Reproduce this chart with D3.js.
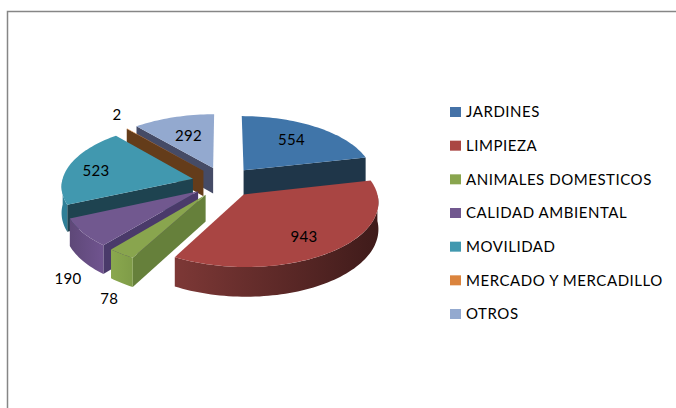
<!DOCTYPE html>
<html>
<head>
<meta charset="utf-8">
<script src="https://cdn.jsdelivr.net/npm/d3@7"></script>
<style>
    html, body { margin: 0; padding: 0; background: #fff; overflow: hidden; }
    text { font-family: Lato, "Open Sans", sans-serif; fill: #000; }
</style>
</head>
<body>
<script>
// values
const categories = ["JARDINES", "LIMPIEZA", "ANIMALES DOMESTICOS", "CALIDAD AMBIENTAL", "MOVILIDAD", "MERCADO Y MERCADILLO", "OTROS"];
const values = [554, 943, 78, 190, 523, 2, 292];

const svgWidth = 676;
const svgHeight = 408;

// colours per slice, same order as categories
const topColors = ["#4075a9", "#a94543", "#89a54e", "#71588f", "#4198af", "#db843d", "#93a9cf"];
const legendColors = ["#4572a7", "#aa4643", "#89a54e", "#71588f", "#4198af", "#db843d", "#93a9cf"];
const wallColors = ["#1f3649", "#5c2a28", "#66803b", "#4a3a6a", "#1e4350", "#643c1a", "#454b66"];
const rimStart = ["#2c4f70", "#7d3836", "#8aa84e", "#5e4878", "#2f7f97", "#8a5a2a", "#5a6a8a"];
const rimEnd = ["#2c4f70", "#3f1b1a", "#7f9c48", "#70548f", "#2f7f97", "#8a5a2a", "#5a6a8a"];

// where the value label sits along the slice's middle direction
const labelFraction = [0.64, 0.69, 1.13, 1.12, 0.78, 1.14, 0.6];
const labelShift = [-2, 4, 32, 37, 2, -10, -1];

// pie geometry
const center = {x: 224, y: 182};
const radius = 131;
const explode = 32;
const tilt = 0.475;
const perspective = 0.0008;
const depth = 26;

const svg = d3
    .select("body")
    .append("svg")
    .attr("width", svgWidth)
    .attr("height", svgHeight);

// chart frame, runs off the picture on the right and bottom
svg.append("path")
    .attr("d", `M7.5,${svgHeight}V11.5H${svgWidth}`)
    .attr("fill", "none")
    .attr("stroke", "#868686")
    .attr("stroke-width", 1.5);

const radial = d3.scaleLinear().domain([0, 1]).range([0, radius]);
const slices = d3.pie().sort(null).value(d => d)(values);
const lineGen = d3.line();

const project = (slice, angle, r, z) => {
    const mid = (slice.startAngle + slice.endAngle) / 2;
    const wx = explode * Math.sin(mid) + radial(r) * Math.sin(angle);
    const wd = -explode * Math.cos(mid) - radial(r) * Math.cos(angle);
    const s = 1 / (1 - perspective * wd);
    return [center.x + wx * s, center.y + (tilt * wd + z) * s];
};

const arcAngles = (from, to) => {
    const n = Math.max(2, Math.ceil((to - from) / 0.03));
    return d3.range(n + 1).map(i => from + (to - from) * i / n);
};

const wallPath = (slice, angle) => lineGen([
    project(slice, angle, 0, 0),
    project(slice, angle, 1, 0),
    project(slice, angle, 1, depth),
    project(slice, angle, 0, depth)
]) + "Z";

const defs = svg.append("defs");
const pie = svg.append("g").attr("id", "pie");

// back slices first so the front ones paint over them
const order = d3.range(slices.length).sort((a, b) => {
    const mid = i => (slices[i].startAngle + slices[i].endAngle) / 2;
    return d3.descending(Math.cos(mid(a)), Math.cos(mid(b)));
});

order.forEach(i => {
    const slice = slices[i];
    const g = pie.append("g").attr("class", "slice");

    if (Math.sin(slice.startAngle) < -1e-6) {
        g.append("path").attr("d", wallPath(slice, slice.startAngle)).attr("fill", wallColors[i]);
    }
    if (Math.sin(slice.endAngle) > 1e-6) {
        g.append("path").attr("d", wallPath(slice, slice.endAngle)).attr("fill", wallColors[i]);
    }

    // outer rim, only the part turned to the viewer
    const from = Math.max(slice.startAngle, Math.PI / 2);
    const to = Math.min(slice.endAngle, Math.PI * 1.5);
    if (to > from) {
        const angles = arcAngles(from, to);
        const rim = angles.map(a => project(slice, a, 1, 0))
            .concat(angles.slice().reverse().map(a => project(slice, a, 1, depth)));
        const grad = defs.append("linearGradient").attr("id", `rim${i}`);
        grad.append("stop").attr("offset", "0%").attr("stop-color", rimStart[i]);
        grad.append("stop").attr("offset", "100%").attr("stop-color", rimEnd[i]);
        g.append("path").attr("d", lineGen(rim) + "Z").attr("fill", `url(#rim${i})`);
    }

    const top = [project(slice, 0, 0, 0)]
        .concat(arcAngles(slice.startAngle, slice.endAngle).map(a => project(slice, a, 1, 0)));
    g.append("path").attr("d", lineGen(top) + "Z").attr("fill", topColors[i]);
});

// value labels
svg.append("g")
    .selectAll("text")
    .data(slices)
    .enter()
    .append("text")
    .attr("transform", (d, i) => {
        const p = project(d, (d.startAngle + d.endAngle) / 2, labelFraction[i], labelShift[i]);
        return `translate(${p[0]},${p[1]})`;
    })
    .attr("dy", "0.35em")
    .attr("text-anchor", "middle")
    .attr("font-size", 15)
    .attr("letter-spacing", 0.3)
    .text(d => d.value);

// legend
const legendY = d3.scalePoint().domain(categories).range([112, 314]);
const legend = svg.append("g")
    .selectAll("g")
    .data(categories)
    .enter()
    .append("g")
    .attr("transform", d => `translate(450,${legendY(d)})`);

legend.append("rect")
    .attr("x", 0)
    .attr("y", -5)
    .attr("width", 11)
    .attr("height", 10)
    .attr("fill", (d, i) => legendColors[i]);

legend.append("text")
    .attr("x", 16)
    .attr("dy", "0.35em")
    .attr("font-size", 15)
    .attr("letter-spacing", 0.55)
    .text(d => d);
</script>
</body>
</html>
